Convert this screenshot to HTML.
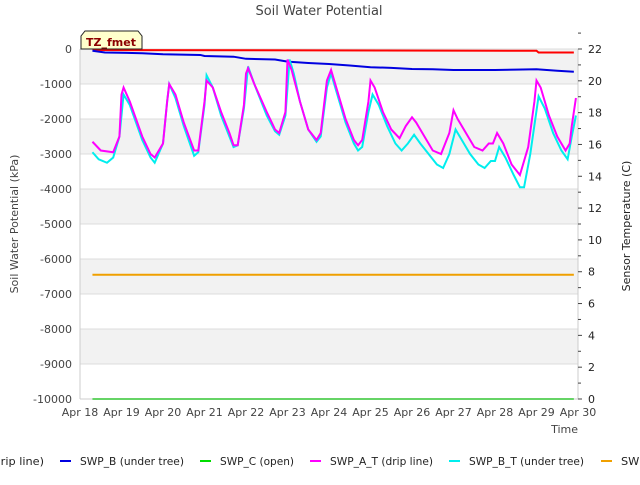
<!DOCTYPE html>
<html><head><meta charset="utf-8"><style>
body{margin:0;background:#fff;font-family:"Liberation Sans","DejaVu Sans",sans-serif;}
svg text{font-family:"DejaVu Sans","Liberation Sans",sans-serif;}
</style></head><body>
<svg id="chart" width="640" height="480" viewBox="0 0 640 480">
<text x="319" y="15" text-anchor="middle" font-size="13" fill="#444">Soil Water Potential</text>
<g id="bands"></g><g id="grid"></g><g id="series"></g><g id="axes"></g><g id="legend"></g>
</svg>
<script>
const dayLabels=["Apr 18","Apr 19","Apr 20","Apr 21","Apr 22","Apr 23","Apr 24","Apr 25","Apr 26","Apr 27","Apr 28","Apr 29","Apr 30"];
const leftTicks=[0,-1000,-2000,-3000,-4000,-5000,-6000,-7000,-8000,-9000,-10000];
const rightTicks=[0,2,4,6,8,10,12,14,16,18,20,22];
const swpB=[[0.3,-50],[0.6,-100],[1.5,-120],[2,-150],[2.9,-170],[3,-200],[3.7,-220],[4,-280],[4.7,-300],[5,-360],[5.5,-400],[6,-430],[6.5,-470],[7,-520],[7.5,-540],[8,-570],[8.5,-580],[9,-600],[10,-600],[10.5,-590],[11,-580],[11.5,-620],[11.9,-650]];
const swpRed=[[0.3,-30],[11,-50],[11.05,-100],[11.9,-100]];
const swpC=[[0.3,-10000],[11.9,-10000]];
const swpOrange=[[0.3,-6450],[11.9,-6450]];
const swpAT=[[0.3,-2650],[0.5,-2900],[0.8,-2950],[0.95,-2500],[1,-1300],[1.05,-1100],[1.2,-1500],[1.5,-2500],[1.7,-3000],[1.8,-3100],[2,-2700],[2.1,-1500],[2.15,-1000],[2.3,-1300],[2.5,-2100],[2.75,-2900],[2.85,-2900],[3,-1500],[3.05,-900],[3.2,-1100],[3.4,-1800],[3.6,-2400],[3.7,-2750],[3.8,-2750],[3.95,-1600],[4,-700],[4.05,-550],[4.2,-1000],[4.5,-1800],[4.7,-2300],[4.8,-2400],[4.95,-1800],[5,-300],[5.1,-600],[5.3,-1500],[5.5,-2300],[5.7,-2600],[5.8,-2400],[5.95,-900],[6.05,-600],[6.2,-1200],[6.4,-2000],[6.6,-2600],[6.7,-2750],[6.8,-2600],[6.95,-1500],[7,-900],[7.1,-1100],[7.3,-1800],[7.5,-2300],[7.7,-2550],[7.85,-2200],[8,-1950],[8.1,-2100],[8.3,-2500],[8.5,-2900],[8.7,-3000],[8.9,-2400],[9,-1750],[9.1,-2000],[9.3,-2400],[9.5,-2800],[9.7,-2900],[9.85,-2700],[9.95,-2700],[10.05,-2400],[10.2,-2700],[10.4,-3300],[10.6,-3600],[10.8,-2800],[10.95,-1500],[11,-900],[11.1,-1100],[11.3,-1900],[11.5,-2500],[11.7,-2900],[11.8,-2700],[11.85,-2200],[11.95,-1400]];
const swpBT=[[0.3,-2950],[0.45,-3150],[0.65,-3250],[0.8,-3100],[0.95,-2500],[1.05,-1300],[1.2,-1600],[1.5,-2600],[1.7,-3100],[1.8,-3250],[2,-2700],[2.1,-1500],[2.15,-1000],[2.3,-1400],[2.5,-2200],[2.75,-3050],[2.85,-2950],[3,-1600],[3.05,-750],[3.2,-1100],[3.4,-1900],[3.6,-2500],[3.7,-2800],[3.8,-2750],[3.95,-1700],[4.05,-500],[4.2,-1000],[4.5,-1900],[4.7,-2350],[4.8,-2450],[4.95,-1900],[5.05,-300],[5.15,-700],[5.3,-1500],[5.5,-2300],[5.7,-2650],[5.8,-2500],[5.95,-1100],[6.05,-700],[6.2,-1300],[6.4,-2100],[6.6,-2700],[6.7,-2900],[6.8,-2800],[6.95,-1800],[7.05,-1300],[7.2,-1600],[7.4,-2200],[7.6,-2700],[7.75,-2900],[7.9,-2700],[8.05,-2450],[8.2,-2700],[8.4,-3000],[8.6,-3300],[8.75,-3400],[8.9,-3000],[9.05,-2300],[9.2,-2600],[9.4,-3000],[9.6,-3300],[9.75,-3400],[9.9,-3200],[10,-3200],[10.1,-2800],[10.25,-3100],[10.45,-3600],[10.6,-3950],[10.7,-3950],[10.85,-3000],[11.05,-1350],[11.2,-1700],[11.4,-2400],[11.6,-2900],[11.75,-3150],[11.85,-2500],[11.95,-1900]];
const seriesList=[["swp-red-line","#ff0000",swpRed],["swp-c-line","#00dd00",swpC],["swp-c-t-line","#f0a000",swpOrange],["swp-b-line","#0000e0",swpB],["swp-b-t-line","#00eeee",swpBT],["swp-a-t-line","#ff00ff",swpAT]];
const X0=80,X1=578,Y0=49,Y1=399;
const x=d=>X0+(X1-X0)*d/12;
const y=v=>Y0+(Y1-Y0)*(-v)/10000;
const yr=t=>Y1-(Y1-Y0)*t/22;
const NS="http://www.w3.org/2000/svg";
function mk(tag,attrs,parent,txt){const e=document.createElementNS(NS,tag);for(const k in attrs)e.setAttribute(k,attrs[k]);if(txt!=null)e.textContent=txt;document.getElementById(parent).appendChild(e);return e;}
for(let i=0;i<10;i+=2){const r=mk("rect",{x:X0,y:y(-i*1000),width:X1-X0,height:y(-(i+1)*1000)-y(-i*1000),fill:"#f2f2f2"},"bands");

}
leftTicks.forEach(v=>{const l=mk("line",{x1:X0,x2:X1,y1:y(v),y2:y(v),stroke:"#dcdcdc","stroke-width":1},"grid");


const t=mk("text",{x:72,y:y(v)+4,"text-anchor":"end","font-size":11,fill:"#444"},"axes",v);

});
seriesList.forEach(s=>{const p=mk("polyline",{points:s[2].map(q=>x(q[0])+","+y(q[1])).join(" "),fill:"none",stroke:s[1],"stroke-width":2},"series");

});
mk("line",{x1:X0,x2:X0,y1:Y0,y2:Y1,stroke:"#ccc"},"axes");
mk("line",{x1:X1,x2:X1,y1:Y0,y2:Y1,stroke:"#ccc"},"axes");
mk("line",{x1:X0,x2:X1,y1:Y1,y2:Y1,stroke:"#ccc"},"axes");
dayLabels.forEach((d,i)=>{const t=mk("text",{x:x(i),y:416,"text-anchor":"middle","font-size":11,fill:"#444"},"axes",d);

});
rightTicks.forEach(v=>{mk("line",{x1:X1,x2:X1+4,y1:yr(v),y2:yr(v),stroke:"#444"},"axes");
mk("line",{x1:X1,x2:X1+3,y1:yr(v+1),y2:yr(v+1),stroke:"#444"},"axes");
const t=mk("text",{x:588,y:yr(v)+4,"font-size":11,fill:"#222"},"axes",v);

});
const yt=mk("text",{transform:"translate(18,224) rotate(-90)","text-anchor":"middle","font-size":11,fill:"#444"},"axes","Soil Water Potential (kPa)");


const rt=mk("text",{transform:"translate(630,226) rotate(-90)","text-anchor":"middle","font-size":11,fill:"#222"},"axes","Sensor Temperature (C)");


const xt=mk("text",{x:578,y:433,"text-anchor":"end","font-size":11,fill:"#444"},"axes","Time");


const legendItems=[["#ff0000","SWP_A (drip line)",-73,97],["#0000e0","SWP_B (under tree)",60,104],["#00dd00","SWP_C (open)",200,74],["#ff00ff","SWP_A_T (drip line)",310,103],["#00eeee","SWP_B_T (under tree)",449,115],["#f0a000","SWP_C_T (open)",601,92]];
legendItems.forEach(it=>{const g=mk("g",{},"legend");


const l=document.createElementNS(NS,"line");l.setAttribute("x1",it[2]);l.setAttribute("x2",it[2]+11);l.setAttribute("y1",461);l.setAttribute("y2",461);l.setAttribute("stroke",it[0]);l.setAttribute("stroke-width",2);g.appendChild(l);
const t=document.createElementNS(NS,"text");t.setAttribute("x",it[2]+20);t.setAttribute("y",465);t.setAttribute("font-size",11);t.setAttribute("fill","#222");t.setAttribute("textLength",it[3]);t.setAttribute("lengthAdjust","spacingAndGlyphs");t.textContent=it[1];g.appendChild(t);});
const tz=mk("g",{},"axes");


tz.innerHTML='<path d="M81,49 L81,36 L85,31 L138,31 L142,36 L142,49 Z" fill="#ffffcc" stroke="#222"/><text x="111" y="46" text-anchor="middle" font-size="11" font-weight="bold" fill="#8b0000">TZ_fmet</text>';
</script>
</body></html>
